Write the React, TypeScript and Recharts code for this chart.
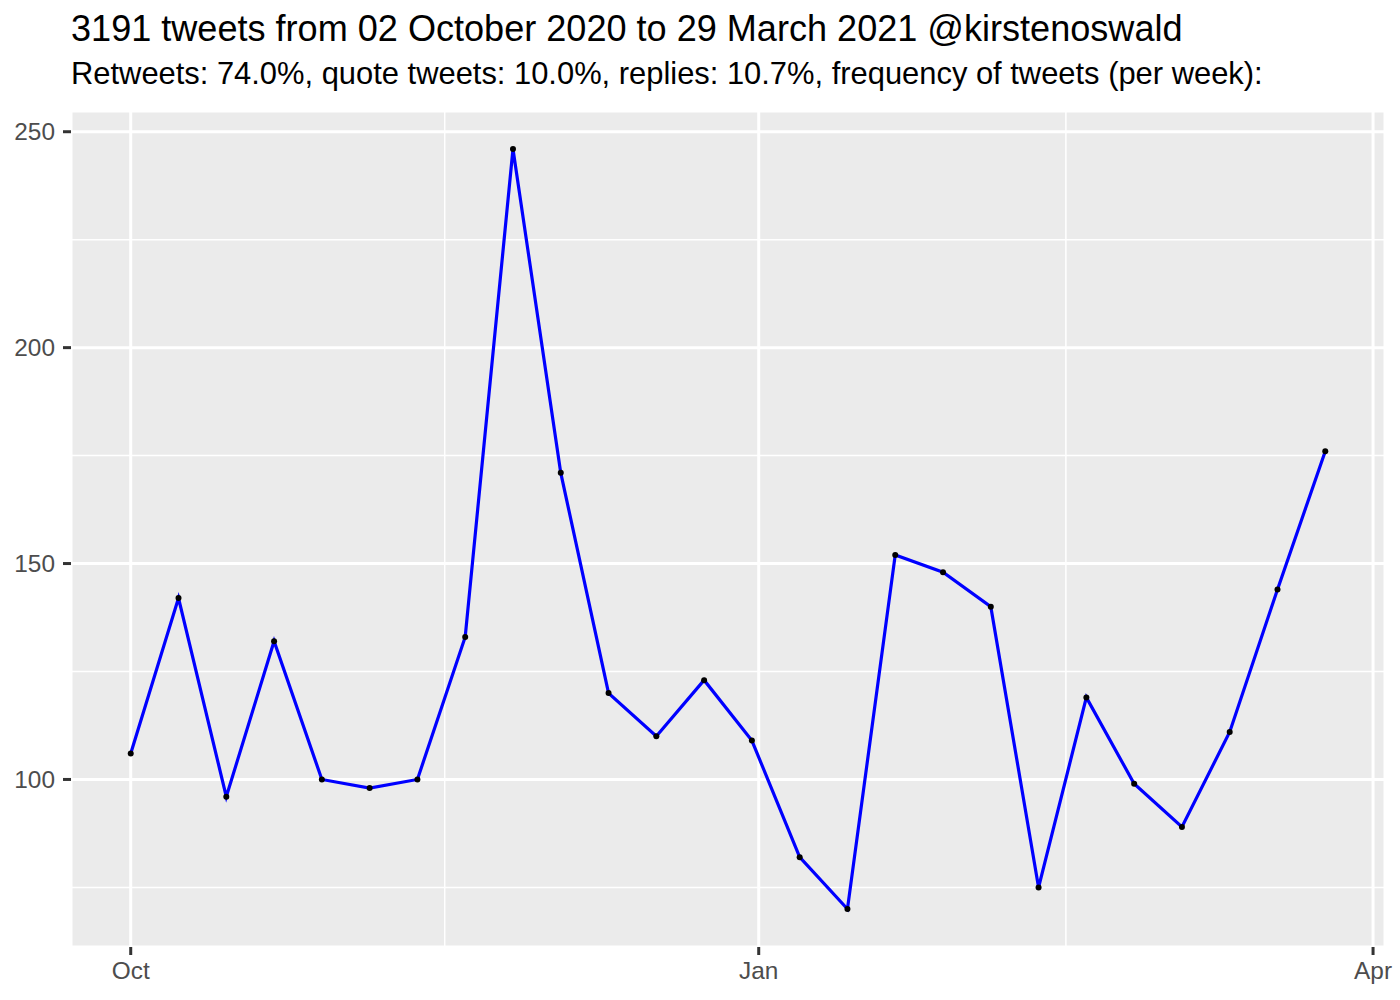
import { LineChart, Line, XAxis, YAxis, CartesianGrid } from "recharts";

// weekly tweet counts for @kirstenoswald
const weeks = [
  "2020-10-01", "2020-10-08", "2020-10-15", "2020-10-22", "2020-10-29",
  "2020-11-05", "2020-11-12", "2020-11-19", "2020-11-26", "2020-12-03",
  "2020-12-10", "2020-12-17", "2020-12-24", "2020-12-31", "2021-01-07",
  "2021-01-14", "2021-01-21", "2021-01-28", "2021-02-04", "2021-02-11",
  "2021-02-18", "2021-02-25", "2021-03-04", "2021-03-11", "2021-03-18",
  "2021-03-25",
];
const tweets = [
  106, 142, 96, 132, 100, 98, 100, 133, 246, 171, 120, 110, 123, 109, 82,
  70, 152, 148, 140, 75, 119, 99, 89, 111, 144, 176,
];

const xBreaks = ["2020-10-01", "2021-01-01", "2021-04-01"];
const xLabels = ["Oct", "Jan", "Apr"];
const yBreaks = [100, 150, 200, 250];
const yMinor = [75, 125, 175, 225];

const title = "3191 tweets from 02 October 2020 to 29 March 2021 @kirstenoswald";
const subtitle =
  "Retweets: 74.0%, quote tweets: 10.0%, replies: 10.7%, frequency of tweets (per week):";

const DAY = 86400000;
const origin = Date.parse("2020-10-01");
const toDay = (s: string) => (Date.parse(s) - origin) / DAY;

const data = weeks.map((w, i) => ({ day: toDay(w), count: tweets[i] }));

// ggplot-style 5% expansion
const expand = (lo: number, hi: number) => {
  const pad = (hi - lo) * 0.05;
  return [lo - pad, hi + pad];
};
const xDomain = expand(data[0].day, data[data.length - 1].day);
const yDomain = expand(Math.min(...tweets), Math.max(...tweets));

const xTicks = xBreaks.map(toDay);
const xMinor = xTicks.slice(1).map((t, i) => (t + xTicks[i]) / 2);

const font = "'Liberation Sans', Arial, Helvetica, sans-serif";
const tickStyle = { fill: "#4D4D4D", fontSize: 24.4, fontFamily: font };
const tickLine = { stroke: "#333333", strokeWidth: 3 };

export default function App() {
  return (
    <div
      style={{
        position: "absolute",
        left: 0,
        top: 0,
        width: 1400,
        height: 1000,
        background: "#FFFFFF",
        fontFamily: font,
      }}
    >
      <div
        style={{
          position: "absolute",
          left: 71,
          top: 11,
          fontSize: 36.1,
          lineHeight: 1,
          color: "#000000",
          whiteSpace: "nowrap",
        }}
      >
        {title}
      </div>
      <div
        style={{
          position: "absolute",
          left: 71,
          top: 59,
          fontSize: 30.9,
          lineHeight: 1,
          color: "#000000",
          whiteSpace: "nowrap",
        }}
      >
        {subtitle}
      </div>
      <LineChart
        width={1400}
        height={1000}
        data={data}
        margin={{ top: 111, right: 15, bottom: 0, left: 0 }}
      >
        <CartesianGrid
          fill="#EBEBEB"
          stroke="#FFFFFF"
          strokeWidth={1.5}
          horizontalValues={yMinor}
          verticalValues={xMinor}
        />
        <CartesianGrid stroke="#FFFFFF" strokeWidth={3} />
        <XAxis
          type="number"
          dataKey="day"
          domain={xDomain}
          ticks={xTicks}
          interval={0}
          allowDataOverflow
          tickFormatter={(v: number) => xLabels[xTicks.indexOf(v)] ?? ""}
          height={53}
          tickSize={8}
          tickMargin={7}
          axisLine={false}
          tickLine={tickLine}
          tick={tickStyle}
        />
        <YAxis
          type="number"
          domain={yDomain}
          ticks={yBreaks}
          interval={0}
          allowDataOverflow
          width={71}
          tickSize={8}
          tickMargin={8}
          axisLine={false}
          tickLine={tickLine}
          tick={tickStyle}
        />
        <Line
          dataKey="count"
          stroke="none"
          dot={{ r: 3, fill: "#000000", stroke: "none" }}
          isAnimationActive={false}
        />
        <Line
          dataKey="count"
          stroke="#0000FF"
          strokeWidth={3.2}
          dot={false}
          type="linear"
          isAnimationActive={false}
        />
      </LineChart>
    </div>
  );
}
